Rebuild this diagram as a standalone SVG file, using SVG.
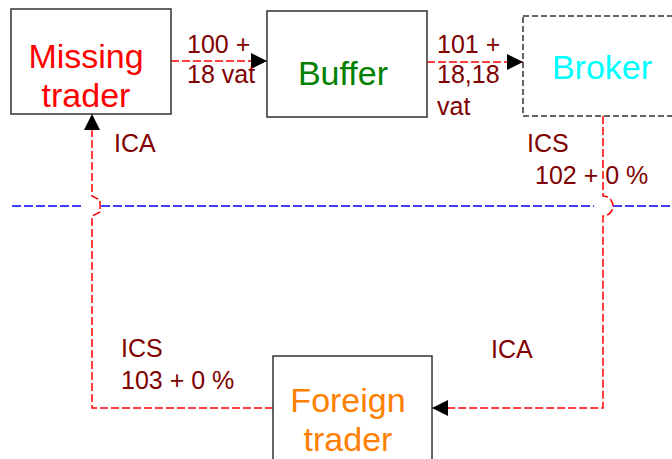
<svg xmlns="http://www.w3.org/2000/svg" width="672" height="459" viewBox="0 0 672 459">
  <style>
    .box { fill: #ffffff; stroke: #333333; stroke-width: 1.5; }
    .dashbox { fill: #ffffff; stroke: #333333; stroke-width: 1.5; stroke-dasharray: 6 3; }
    .node { font-family: "Liberation Sans", Arial, sans-serif; font-size: 34px; text-anchor: middle; }
    .lbl { font-family: "Liberation Sans", Arial, sans-serif; font-size: 25px; fill: #800000; }
    .flow { fill: none; stroke: #ff0000; stroke-width: 1.5; stroke-dasharray: 8 3; }
    .border { fill: none; stroke: #0000ff; stroke-width: 1.5; stroke-dasharray: 9 3; }
  </style>
  <defs>
    <marker id="head" viewBox="0 0 16 16" refX="16" refY="8" markerWidth="16" markerHeight="16" markerUnits="userSpaceOnUse" orient="auto">
      <path d="M0 0 L16 8 L0 16 Z" fill="#000000"/>
    </marker>
  </defs>

  <!-- border line, broken where the flows jump over it -->
  <g id="border">
    <line class="border" x1="12" y1="206" x2="82" y2="206"/>
    <line class="border" x1="101" y1="206" x2="594" y2="206"/>
    <line class="border" x1="613" y1="206" x2="672" y2="206"/>
  </g>

  <!-- connectors -->
  <g id="connectors">
    <line class="flow" x1="171" y1="61" x2="267" y2="61" marker-end="url(#head)"/>
    <line class="flow" x1="427" y1="62" x2="523" y2="62" marker-end="url(#head)"/>
    <path class="flow" d="M603 116 L603 196 A10 10 0 0 1 603 216 L603 408 L432 408" marker-end="url(#head)"/>
    <path class="flow" d="M273 408 L92 408 L92 216 L100 212 L100 200 L92 196 L92 114" marker-end="url(#head)"/>
  </g>

  <g id="missing-trader">
    <rect class="box" x="11" y="9" width="160" height="105"/>
    <text class="node" fill="#ff0000" x="86" y="68">Missing</text>
    <text class="node" fill="#ff0000" x="86" y="107">trader</text>
  </g>

  <g id="buffer">
    <rect class="box" x="267" y="11" width="160" height="106"/>
    <text class="node" fill="#008000" x="343" y="85">Buffer</text>
  </g>

  <g id="broker">
    <rect class="dashbox" x="523" y="16" width="160" height="100"/>
    <text class="node" fill="#00ffff" x="602" y="79">Broker</text>
  </g>

  <g id="foreign-trader">
    <rect class="box" x="273" y="356" width="159" height="120"/>
    <text class="node" fill="#ff8000" x="348" y="412">Foreign</text>
    <text class="node" fill="#ff8000" x="348" y="451">trader</text>
  </g>

  <!-- connector labels -->
  <g id="labels">
    <text class="lbl" x="187" y="53">100 +</text>
    <text class="lbl" x="187" y="83">18 vat</text>
    <text class="lbl" x="437" y="53">101 +</text>
    <text class="lbl" x="437" y="83">18,18</text>
    <text class="lbl" x="437" y="115">vat</text>
    <text class="lbl" x="114" y="152">ICA</text>
    <text class="lbl" x="527" y="152">ICS</text>
    <text class="lbl" x="535" y="184">102 + 0 %</text>
    <text class="lbl" x="121" y="357">ICS</text>
    <text class="lbl" x="121" y="389">103 + 0 %</text>
    <text class="lbl" x="491" y="358">ICA</text>
  </g>
</svg>
